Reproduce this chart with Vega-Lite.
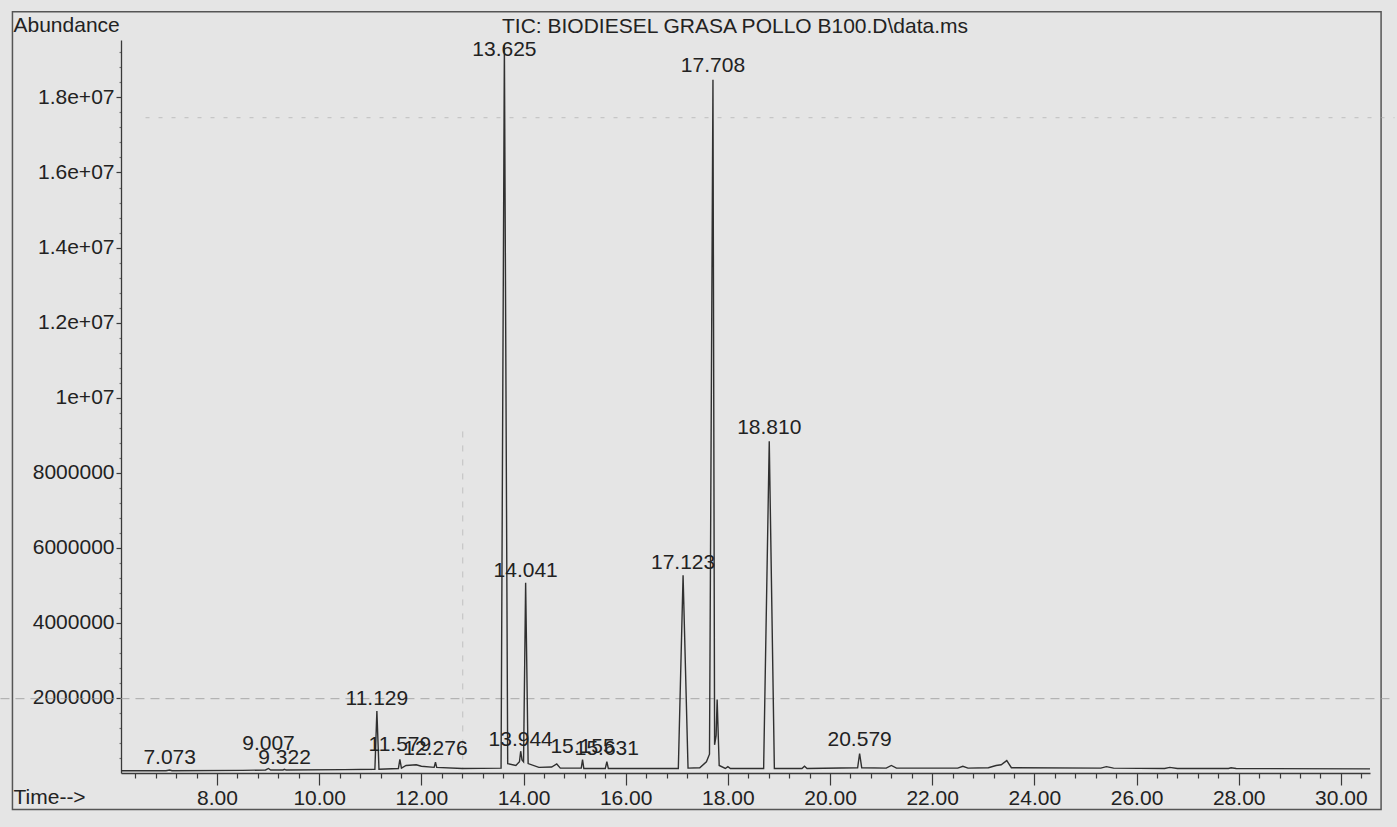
{
  "$schema": "https://vega.github.io/schema/vega-lite/v6.json",
  "width": 1249,
  "height": 733,
  "autosize": {"type": "none"},
  "padding": {"left": 121, "top": 40, "right": 27, "bottom": 54},
  "background": "#e5e5e5",
  "config": {
    "view": {"stroke": null},
    "font": "Liberation Sans",
    "axis": {"grid": false, "domainColor": "#3a3a3a", "tickColor": "#3a3a3a", "labelColor": "#222222", "titleColor": "#222222", "labelFont": "Liberation Sans", "titleFont": "Liberation Sans", "labelFontSize": 21, "titleFontSize": 21, "titleFontWeight": "normal", "domainWidth": 1.3, "tickWidth": 1.2, "labelOverlap": false, "labelFlush": false}
  },
  "title": {
    "text": "TIC: BIODIESEL GRASA POLLO B100.D\\data.ms",
    "anchor": "start",
    "frame": "group",
    "dx": 381,
    "dy": 26,
    "offset": 0,
    "fontSize": 21,
    "fontWeight": "normal",
    "font": "Liberation Sans",
    "color": "#222222"
  },
  "datasets": {
    "one": [{}],
    "trace": [
      {"time": 6.12, "abundance": 60000},
      {"time": 7.0, "abundance": 60000},
      {"time": 7.073, "abundance": 80000},
      {"time": 7.12, "abundance": 60000},
      {"time": 8.5, "abundance": 70000},
      {"time": 8.95, "abundance": 80000},
      {"time": 9.007, "abundance": 120000},
      {"time": 9.05, "abundance": 80000},
      {"time": 9.29, "abundance": 80000},
      {"time": 9.322, "abundance": 100000},
      {"time": 9.35, "abundance": 80000},
      {"time": 10.5, "abundance": 90000},
      {"time": 11.09, "abundance": 100000},
      {"time": 11.129, "abundance": 1650000},
      {"time": 11.17, "abundance": 100000},
      {"time": 11.55, "abundance": 120000},
      {"time": 11.579, "abundance": 360000},
      {"time": 11.61, "abundance": 130000},
      {"time": 11.7, "abundance": 200000},
      {"time": 11.9, "abundance": 220000},
      {"time": 12.0, "abundance": 180000},
      {"time": 12.25, "abundance": 150000},
      {"time": 12.276, "abundance": 290000},
      {"time": 12.3, "abundance": 150000},
      {"time": 12.8, "abundance": 120000},
      {"time": 13.56, "abundance": 130000},
      {"time": 13.625, "abundance": 19400000},
      {"time": 13.69, "abundance": 250000},
      {"time": 13.85, "abundance": 200000},
      {"time": 13.92, "abundance": 300000},
      {"time": 13.944, "abundance": 580000},
      {"time": 13.97, "abundance": 350000},
      {"time": 14.0, "abundance": 300000},
      {"time": 14.041, "abundance": 5070000},
      {"time": 14.09, "abundance": 250000},
      {"time": 14.3, "abundance": 150000},
      {"time": 14.55, "abundance": 160000},
      {"time": 14.65, "abundance": 240000},
      {"time": 14.72, "abundance": 130000},
      {"time": 15.13, "abundance": 130000},
      {"time": 15.155, "abundance": 360000},
      {"time": 15.18, "abundance": 120000},
      {"time": 15.6, "abundance": 120000},
      {"time": 15.631, "abundance": 300000},
      {"time": 15.66, "abundance": 120000},
      {"time": 17.03, "abundance": 120000},
      {"time": 17.123, "abundance": 5270000},
      {"time": 17.22, "abundance": 130000},
      {"time": 17.45, "abundance": 140000},
      {"time": 17.58, "abundance": 300000},
      {"time": 17.64, "abundance": 500000},
      {"time": 17.708, "abundance": 18470000},
      {"time": 17.74, "abundance": 750000},
      {"time": 17.77, "abundance": 1000000},
      {"time": 17.79, "abundance": 1960000},
      {"time": 17.83, "abundance": 200000},
      {"time": 17.95, "abundance": 120000},
      {"time": 18.0, "abundance": 170000},
      {"time": 18.05, "abundance": 120000},
      {"time": 18.7, "abundance": 120000},
      {"time": 18.81, "abundance": 8840000},
      {"time": 18.91, "abundance": 120000},
      {"time": 19.45, "abundance": 120000},
      {"time": 19.5, "abundance": 180000},
      {"time": 19.55, "abundance": 120000},
      {"time": 20.54, "abundance": 140000},
      {"time": 20.579, "abundance": 520000},
      {"time": 20.62, "abundance": 140000},
      {"time": 21.1, "abundance": 130000},
      {"time": 21.2, "abundance": 200000},
      {"time": 21.3, "abundance": 130000},
      {"time": 22.5, "abundance": 130000},
      {"time": 22.6, "abundance": 180000},
      {"time": 22.7, "abundance": 130000},
      {"time": 23.1, "abundance": 140000},
      {"time": 23.25, "abundance": 200000},
      {"time": 23.35, "abundance": 220000},
      {"time": 23.46, "abundance": 330000},
      {"time": 23.55, "abundance": 140000},
      {"time": 25.3, "abundance": 130000},
      {"time": 25.41, "abundance": 170000},
      {"time": 25.55, "abundance": 130000},
      {"time": 26.55, "abundance": 120000},
      {"time": 26.65, "abundance": 150000},
      {"time": 26.8, "abundance": 120000},
      {"time": 27.8, "abundance": 120000},
      {"time": 27.85, "abundance": 140000},
      {"time": 27.95, "abundance": 120000},
      {"time": 30.57, "abundance": 110000}
    ],
    "peaks": [
      {"time": 7.073, "abundance": 90000, "label": "7.073"},
      {"time": 9.007, "abundance": 440000, "label": "9.007"},
      {"time": 9.322, "abundance": 80000, "label": "9.322"},
      {"time": 11.129, "abundance": 1650000, "label": "11.129"},
      {"time": 11.579, "abundance": 420000, "label": "11.579"},
      {"time": 12.276, "abundance": 320000, "label": "12.276"},
      {"time": 13.625, "abundance": 18950000, "label": "13.625"},
      {"time": 13.944, "abundance": 570000, "label": "13.944"},
      {"time": 14.041, "abundance": 5050000, "label": "14.041"},
      {"time": 15.155, "abundance": 360000, "label": "15.155"},
      {"time": 15.631, "abundance": 310000, "label": "15.631"},
      {"time": 17.123, "abundance": 5280000, "label": "17.123"},
      {"time": 17.708, "abundance": 18510000, "label": "17.708"},
      {"time": 18.81, "abundance": 8870000, "label": "18.810"},
      {"time": 20.579, "abundance": 550000, "label": "20.579"}
    ]
  },
  "resolve": {"axis": {"x": "independent", "y": "independent"}},
  "layer": [
    {
      "data": {"name": "one"},
      "mark": {"type": "rect", "fill": null, "fillOpacity": 0, "stroke": "#555555", "strokeWidth": 1.5, "clip": false},
      "encoding": {
        "x": {"datum": 3.995, "type": "quantitative", "scale": {"domain": [6.12, 30.57], "nice": false, "zero": false}, "axis": null},
        "x2": {"datum": 30.787},
        "y": {"datum": 20280000, "type": "quantitative", "scale": {"domain": [0, 19530000], "nice": false, "zero": false}, "axis": null},
        "y2": {"datum": -972000}
      }
    },
    {
      "data": {"name": "one"},
      "mark": {"type": "rule", "stroke": "#9a9a9a", "strokeWidth": 1, "strokeDash": [9, 6], "opacity": 0.8, "clip": false},
      "encoding": {
        "x": {"datum": 3.76, "type": "quantitative", "scale": {"domain": [6.12, 30.57], "nice": false, "zero": false}, "axis": null},
        "x2": {"datum": 31.05},
        "y": {"datum": 1980000, "type": "quantitative", "scale": {"domain": [0, 19530000], "nice": false, "zero": false}, "axis": null}
      }
    },
    {
      "data": {"name": "one"},
      "mark": {"type": "rule", "stroke": "#a5a5a5", "strokeWidth": 1, "strokeDash": [4, 9], "opacity": 0.6, "clip": false},
      "encoding": {
        "x": {"datum": 6.6, "type": "quantitative", "scale": {"domain": [6.12, 30.57], "nice": false, "zero": false}, "axis": null},
        "x2": {"datum": 31.05},
        "y": {"datum": 17460000, "type": "quantitative", "scale": {"domain": [0, 19530000], "nice": false, "zero": false}, "axis": null}
      }
    },
    {
      "data": {"name": "one"},
      "mark": {"type": "rule", "stroke": "#a5a5a5", "strokeWidth": 1, "strokeDash": [6, 8], "opacity": 0.6, "clip": false},
      "encoding": {
        "x": {"datum": 12.81, "type": "quantitative", "scale": {"domain": [6.12, 30.57], "nice": false, "zero": false}, "axis": null},
        "y": {"datum": 9100000, "type": "quantitative", "scale": {"domain": [0, 19530000], "nice": false, "zero": false}, "axis": null},
        "y2": {"datum": 100000}
      }
    },
    {
      "data": {"name": "trace"},
      "mark": {"type": "line", "stroke": "#303030", "strokeWidth": 1.4, "interpolate": "linear", "clip": false},
      "encoding": {
        "x": {
          "field": "time", "type": "quantitative",
          "scale": {"domain": [6.12, 30.57], "nice": false, "zero": false},
          "axis": {
            "orient": "bottom",
            "values": [6.4, 6.8, 7.2, 7.6, 8, 8.4, 8.8, 9.2, 9.6, 10, 10.4, 10.8, 11.2, 11.6, 12, 12.4, 12.8, 13.2, 13.6, 14, 14.4, 14.8, 15.2, 15.6, 16, 16.4, 16.8, 17.2, 17.6, 18, 18.4, 18.8, 19.2, 19.6, 20, 20.4, 20.8, 21.2, 21.6, 22, 22.4, 22.8, 23.2, 23.6, 24, 24.4, 24.8, 25.2, 25.6, 26, 26.4, 26.8, 27.2, 27.6, 28, 28.4, 28.8, 29.2, 29.6, 30, 30.4],
            "labelExpr": "abs(datum.value - round(datum.value / 2) * 2) < 0.01 ? format(datum.value, '.2f') : ''",
            "tickSize": {"condition": {"test": "abs(datum.value - round(datum.value / 2) * 2) < 0.01", "value": 12}, "value": 5},
            "labelPadding": 13,
            "labelBaseline": "middle",
            "title": "Time-->",
            "titleX": -108,
            "titleY": 24,
            "titleAlign": "left",
            "titleBaseline": "middle",
            "titleAnchor": "start"
          }
        },
        "y": {
          "field": "abundance", "type": "quantitative",
          "scale": {"domain": [0, 19530000], "nice": false, "zero": false},
          "axis": {
            "orient": "left",
            "values": [400000, 800000, 1200000, 1600000, 2000000, 2400000, 2800000, 3200000, 3600000, 4000000, 4400000, 4800000, 5200000, 5600000, 6000000, 6400000, 6800000, 7200000, 7600000, 8000000, 8400000, 8800000, 9200000, 9600000, 10000000, 10400000, 10800000, 11200000, 11600000, 12000000, 12400000, 12800000, 13200000, 13600000, 14000000, 14400000, 14800000, 15200000, 15600000, 16000000, 16400000, 16800000, 17200000, 17600000, 18000000, 18400000, 18800000, 19200000],
            "labelExpr": "datum.value % 2000000 === 0 ? (datum.value < 10000000 ? format(datum.value, 'd') : (datum.value === 10000000 ? '1e+07' : format(datum.value / 10000000, '.1f') + 'e+07')) : ''",
            "tickSize": {"condition": {"test": "datum.value % 2000000 === 0", "value": 5}, "value": 2},
            "tickColor": {"condition": {"test": "datum.value % 2000000 === 0", "value": "#3a3a3a"}, "value": "#777777"},
            "labelPadding": 2,
            "title": "Abundance",
            "titleAngle": 0,
            "titleX": -108,
            "titleY": -15,
            "titleAlign": "left",
            "titleBaseline": "middle",
            "titleAnchor": "start"
          }
        }
      }
    },
    {
      "data": {"name": "peaks"},
      "mark": {"type": "text", "font": "Liberation Sans", "fontSize": 21, "color": "#222222", "align": "center", "baseline": "middle", "dy": -12, "clip": false},
      "encoding": {
        "x": {"field": "time", "type": "quantitative", "scale": {"domain": [6.12, 30.57], "nice": false, "zero": false}, "axis": null},
        "y": {"field": "abundance", "type": "quantitative", "scale": {"domain": [0, 19530000], "nice": false, "zero": false}, "axis": null},
        "text": {"field": "label"}
      }
    }
  ]
}
